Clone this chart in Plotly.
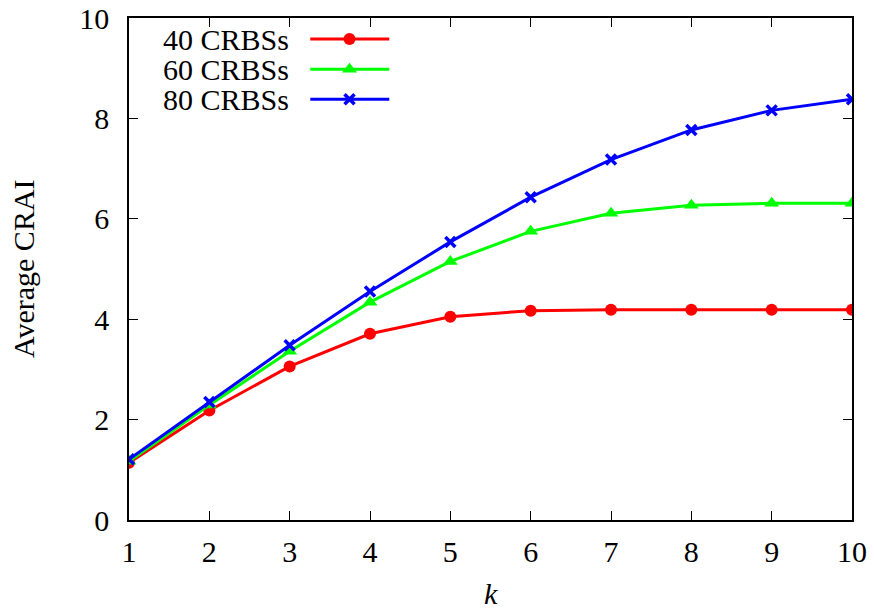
import plotly.graph_objects as go

# Average CRAI versus k for three deployment sizes
k_values = [1, 2, 3, 4, 5, 6, 7, 8, 9, 10]
crai_40 = [1.14, 2.18, 3.06, 3.71, 4.05, 4.17, 4.19, 4.19, 4.19, 4.19]
crai_60 = [1.17, 2.29, 3.36, 4.34, 5.15, 5.75, 6.11, 6.27, 6.31, 6.31]
crai_80 = [1.21, 2.35, 3.48, 4.55, 5.54, 6.43, 7.18, 7.77, 8.16, 8.38]

series_names = ["40 CRBSs", "60 CRBSs", "80 CRBSs"]
series_values = [crai_40, crai_60, crai_80]
series_colors = ["#ff0000", "#00ff00", "#0000ff"]
series_symbols = ["circle", "triangle-up", "x-thin"]
marker_sizes = [12, 13, 10]

x_ticks = list(range(1, 11))
y_ticks = [0, 2, 4, 6, 8, 10]

FONT = "Liberation Serif"
FSIZE = 30

fig = go.Figure()

for name, vals, color, sym, ms in zip(series_names, series_values, series_colors,
                                     series_symbols, marker_sizes):
    marker = dict(symbol=sym, size=ms, color=color,
                  line=dict(color=color, width=3.5 if sym == "x-thin" else 0))
    fig.add_trace(go.Scatter(x=k_values, y=vals, mode="lines+markers", name=name,
                             line=dict(color=color, width=3), marker=marker,
                             showlegend=False))

# Key drawn in the upper-left corner: label on the left, sample on the right
key_y = [0.958, 0.898, 0.838]
for name, color, sym, ms, ky in zip(series_names, series_colors, series_symbols,
                                    marker_sizes, key_y):
    fig.add_trace(go.Scatter(x=[0.2507, 0.360], y=[ky, ky], mode="lines",
                             line=dict(color=color, width=3), xaxis="x2", yaxis="y2",
                             showlegend=False, hoverinfo="skip"))
    fig.add_trace(go.Scatter(x=[0.305], y=[ky], mode="markers",
                             marker=dict(symbol=sym, size=ms, color=color,
                                         line=dict(color=color, width=3.5 if sym == "x-thin" else 0)),
                             xaxis="x2", yaxis="y2", showlegend=False, hoverinfo="skip"))
    fig.add_annotation(x=0.2244, y=ky, xref="x2", yref="y2", text=name,
                       showarrow=False, xanchor="right", yanchor="middle",
                       font=dict(family=FONT, size=FSIZE, color="black"))

axis_common = dict(showgrid=False, zeroline=False, showline=True, linecolor="black",
                   linewidth=1.5, mirror="ticks", ticks="inside", ticklen=9,
                   tickwidth=1.2, tickcolor="black", automargin=False,
                   tickfont=dict(family=FONT, size=FSIZE, color="black"))

fig.update_layout(
    width=874, height=609,
    margin=dict(l=129, r=22, t=18, b=89),
    paper_bgcolor="white", plot_bgcolor="white",
    xaxis=dict(range=[1, 10], tickvals=x_ticks, ticklabelstandoff=4, **axis_common),
    yaxis=dict(range=[0, 10], tickvals=y_ticks, ticklabelstandoff=12, **axis_common),
    xaxis2=dict(overlaying="x", range=[0, 1], visible=False),
    yaxis2=dict(overlaying="y", range=[0, 1], visible=False),
    showlegend=False,
)

fig.add_annotation(x=0.5, y=0, xref="paper", yref="paper", yshift=-73, text="<i>k</i>",
                   showarrow=False, xanchor="center", yanchor="middle",
                   font=dict(family=FONT, size=FSIZE, color="black"))
fig.add_annotation(x=0, y=0.5, xref="paper", yref="paper", xshift=-106, text="Average CRAI",
                   showarrow=False, textangle=-90, xanchor="center", yanchor="middle",
                   font=dict(family=FONT, size=FSIZE, color="black"))

fig.write_html("out.html")
